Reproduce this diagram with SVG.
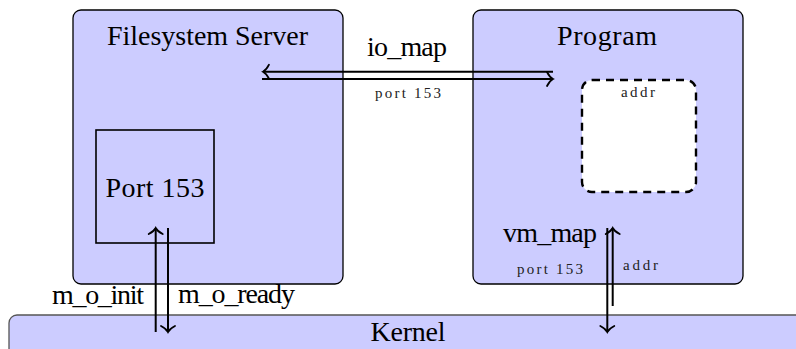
<svg xmlns="http://www.w3.org/2000/svg" width="796" height="349" viewBox="0 0 796 349">
  <style>
    .box { fill: #ccccff; stroke: #000; stroke-width: 1.3; }
    text { font-family: 'Liberation Serif', 'Times New Roman', serif; text-anchor: middle; }
    .big { font-size: 28px; fill: #000; }
    .small { font-size: 15px; fill: #222; }
    .arrow { fill: none; stroke: #000; stroke-width: 2; }
  </style>
  <defs>
    <marker id="ah" viewBox="-10 -10 20 20" markerWidth="20" markerHeight="20" refX="0" refY="0" orient="auto" markerUnits="userSpaceOnUse">
      <path d="M -6 -7 C -4 -3 -1.5 -0.8 0 0 C -1.5 0.8 -4 3 -6 7" fill="none" stroke="#000" stroke-width="1.8" stroke-linecap="round"/>
    </marker>
  </defs>
  <rect width="796" height="349" fill="#fff"/>

  <g id="kernel">
    <rect x="9" y="315" width="800" height="50" rx="8" fill="#ccccff" stroke="#555" stroke-width="1.3"/>
    <text class="big" x="408" y="341" textLength="75">Kernel</text>
  </g>

  <g id="filesystem-server">
    <rect class="box" x="73" y="10" width="270" height="274" rx="8"/>
    <text class="big" x="207.5" y="45" textLength="201">Filesystem Server</text>
  </g>

  <g id="port153">
    <rect x="96" y="130" width="118" height="113" fill="none" stroke="#000" stroke-width="1.6"/>
    <text class="big" x="155" y="197" textLength="99">Port 153</text>
  </g>

  <g id="program">
    <rect class="box" x="473" y="10" width="270" height="274" rx="8"/>
    <text class="big" x="607" y="45" textLength="100">Program</text>
  </g>

  <g id="addr-region">
    <rect x="582" y="80" width="114" height="112" rx="10" fill="#fff" stroke="#000" stroke-width="2.4" stroke-dasharray="8 6"/>
    <text class="small" x="638" y="97" textLength="34">addr</text>
  </g>

  <g id="connectors">
    <line class="arrow" x1="553" y1="71.7" x2="263" y2="71.7" marker-end="url(#ah)"/>
    <line class="arrow" x1="262" y1="79" x2="553" y2="79" marker-end="url(#ah)"/>
    <text class="big" x="407" y="56" textLength="80">io_map</text>
    <text class="small" x="408" y="98" textLength="66">port 153</text>

    <line class="arrow" x1="155.7" y1="332" x2="155.7" y2="228" marker-end="url(#ah)"/>
    <line class="arrow" x1="168" y1="228" x2="168" y2="332" marker-end="url(#ah)"/>
    <text class="big" x="98" y="303.5" textLength="92">m_o_init</text>
    <text class="big" x="236.5" y="303" textLength="117">m_o_ready</text>

    <line class="arrow" x1="607.3" y1="228" x2="607.3" y2="332" marker-end="url(#ah)"/>
    <line class="arrow" x1="612.7" y1="306" x2="612.7" y2="228" marker-end="url(#ah)"/>
    <text class="big" x="550" y="242" textLength="94">vm_map</text>
    <text class="small" x="550" y="274" textLength="66">port 153</text>
    <text class="small" x="640.5" y="270" textLength="35">addr</text>
  </g>
</svg>
